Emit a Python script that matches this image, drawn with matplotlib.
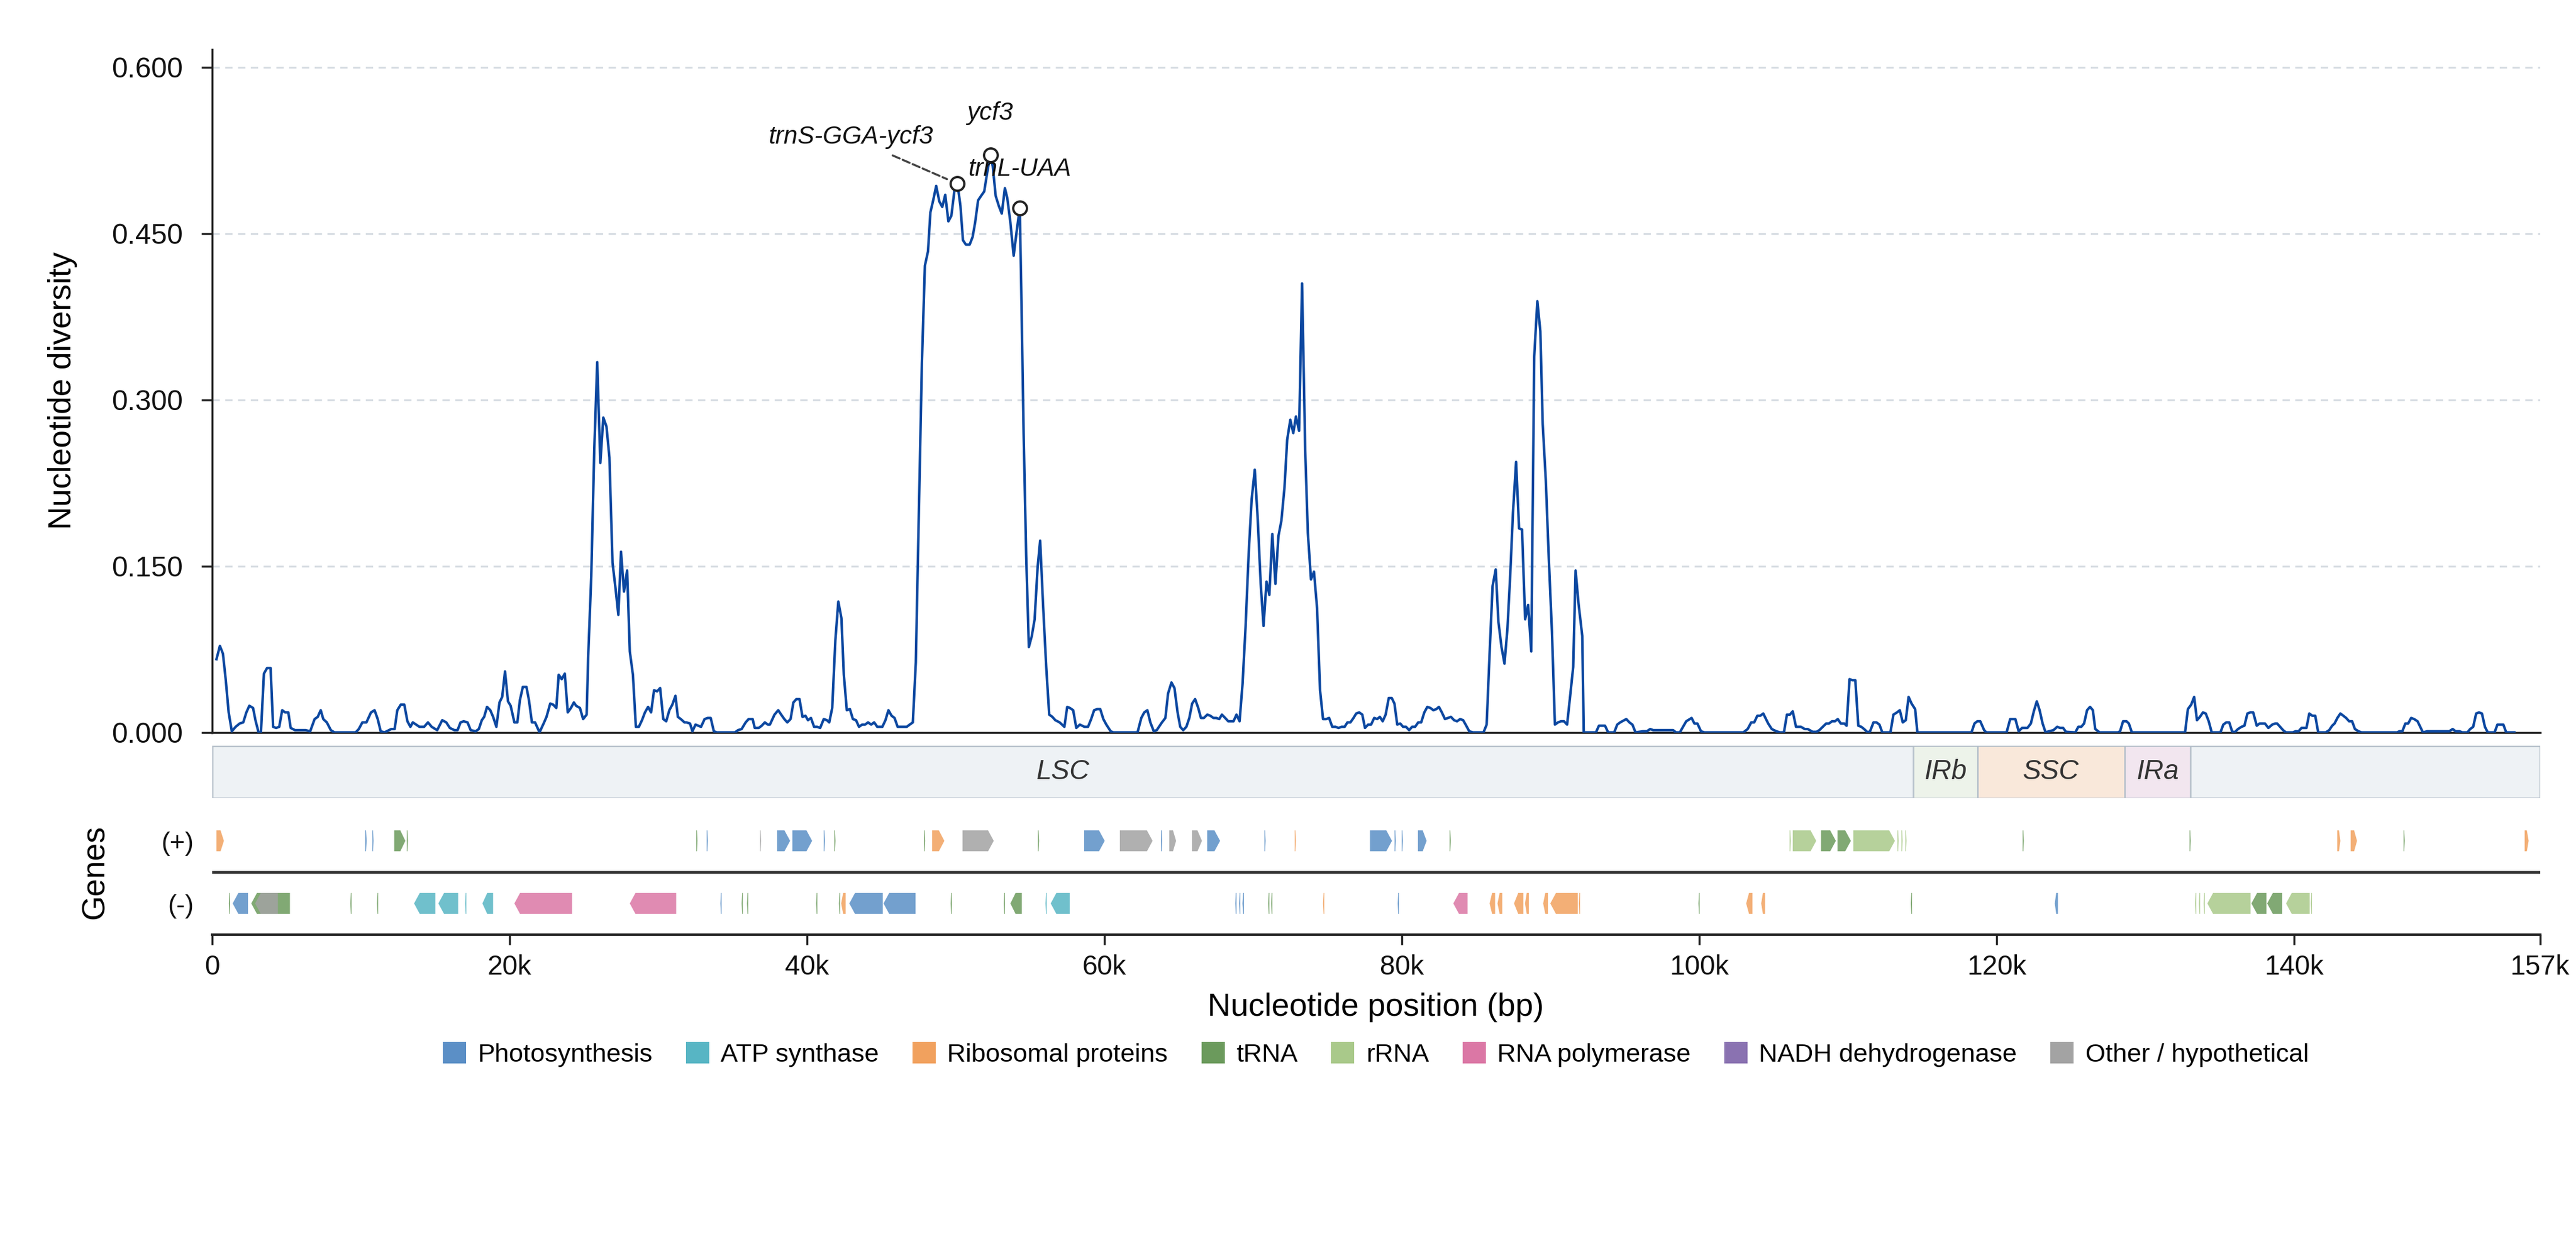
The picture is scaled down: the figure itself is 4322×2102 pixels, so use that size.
import numpy as np
import matplotlib
matplotlib.use("Agg")
import matplotlib.pyplot as plt
from matplotlib.patches import Polygon, Rectangle, Patch
from matplotlib.ticker import FormatStrFormatter

plt.rcParams['font.family'] = ['Liberation Sans', 'DejaVu Sans']

GENOME_LEN = 156520

# sliding window nucleotide diversity (window midpoint in bp, Pi)
pos_a = [300, 530, 735, 920, 1120, 1330, 1590, 1860, 2100, 2310,
         2510, 2760, 2920, 3130, 3290, 3490, 3700, 3940, 4110, 4310,
         4520, 4720, 4920, 5130, 5290, 5580, 5880, 6290, 6600, 6900,
         7110, 7310, 7480, 7720, 7990, 8230, 9660, 9870, 10110, 10380,
         10690, 10930, 11140, 11340, 11600, 12050, 12280, 12460, 12690, 12930,
         13140, 13340, 13500, 13950, 14260, 14520, 14770, 15140, 15480, 15750,
         15990, 16300, 16510, 16710, 16920, 17180, 17390, 17730, 17940, 18140,
         18300, 18490, 18710, 18900, 19120, 19330, 19510, 19700, 19900, 20080,
         20330, 20530, 20700, 20900, 21140, 21310, 21510, 21720, 22020, 22330,
         22490, 22740, 22940, 23150, 23310, 23510, 23720, 23920, 24130, 24330,
         24480, 24740, 24950, 25190, 25290, 25500, 25700, 25900, 26110, 26310,
         26520, 26720, 26930, 27130, 27320, 27500, 27700, 27910, 28090, 28300,
         28500, 28700, 28910, 29110, 29320, 29520, 29720, 29930, 30130, 30340,
         30540, 30750, 30950, 31160, 31320, 31520, 31770, 31896]
pi_a = [0.066, 0.078, 0.071, 0.048, 0.018, 0.001, 0.005, 0.008, 0.009, 0.018,
        0.024, 0.022, 0.011, 0, 0, 0.053, 0.058, 0.058, 0.005, 0.004,
        0.005, 0.020, 0.018, 0.018, 0.004, 0.002, 0.002, 0.002, 0.001, 0.012,
        0.014, 0.020, 0.012, 0.009, 0.002, 0, 0, 0.003, 0.009, 0.009,
        0.018, 0.020, 0.012, 0.001, 0, 0.003, 0.003, 0.020, 0.025, 0.025,
        0.010, 0.005, 0.009, 0.005, 0.005, 0.009, 0.005, 0.002, 0.011, 0.009,
        0.004, 0.002, 0.002, 0.009, 0.010, 0.009, 0.002, 0.001, 0.003, 0.011,
        0.014, 0.023, 0.020, 0.014, 0.005, 0.027, 0.032, 0.055, 0.028, 0.024,
        0.009, 0.009, 0.029, 0.041, 0.041, 0.029, 0.009, 0.009, 0, 0.009,
        0.014, 0.026, 0.025, 0.022, 0.052, 0.048, 0.053, 0.018, 0.022, 0.027,
        0.024, 0.022, 0.012, 0.016, 0.067, 0.141, 0.255, 0.334, 0.243, 0.284,
        0.276, 0.248, 0.153, 0.130, 0.106, 0.163, 0.127, 0.146, 0.073, 0.052,
        0.005, 0.005, 0.011, 0.018, 0.023, 0.018, 0.038, 0.037, 0.040, 0.012,
        0.010, 0.020, 0.025, 0.033, 0.014, 0.012, 0.009, 0.009]

pos_b = [32140, 32300, 32510, 32880, 33120, 33330, 33530, 33740, 33940, 35160,
         35370, 35610, 35880, 36080, 36350, 36490, 36760, 36960, 37170, 37370,
         37510, 37820, 38070, 38270, 38480, 38680, 38900, 39090, 39290, 39500,
         39700, 39900, 40070, 40270, 40480, 40680, 40890, 41130, 41340, 41500,
         41700, 41910, 42110, 42320, 42480, 42680, 42890, 43090, 43300, 43500,
         43710, 43910, 44110, 44320, 44520, 44730, 45070, 45280, 45480, 45690,
         45890, 46100, 46500, 46710, 46910, 47120, 47320, 47520, 47730, 47930,
         48140, 48300, 48490, 48690, 48900, 49100, 49300, 49510, 49710, 49920,
         50120, 50320, 50490, 50690, 50940, 51140, 51310, 51510, 51710, 51920,
         52120, 52330, 52490, 52690, 52900, 53100, 53310, 53470, 53680, 53900,
         54100, 54310, 54410, 54570, 54740, 54920, 55120, 55310, 55510, 55680,
         55880, 56090, 56290, 56500, 56700, 56990, 57310, 57500, 57680, 57900,
         58110, 58350, 58660, 58900, 59110, 59310, 59520, 59720, 59930, 60130,
         60420, 60600, 62230, 62480, 62680, 62890, 63090, 63320, 63520, 63870]
pi_b = [0.008, 0.001, 0.007, 0.005, 0.012, 0.013, 0.013, 0.001, 0, 0,
        0.002, 0.003, 0.009, 0.012, 0.012, 0.004, 0.004, 0.006, 0.009, 0.007,
        0.007, 0.016, 0.020, 0.016, 0.012, 0.009, 0.012, 0.027, 0.030, 0.030,
        0.014, 0.015, 0.011, 0.013, 0.005, 0.005, 0.004, 0.012, 0.011, 0.009,
        0.022, 0.083, 0.118, 0.103, 0.052, 0.020, 0.021, 0.012, 0.011, 0.005,
        0.007, 0.007, 0.009, 0.007, 0.009, 0.005, 0.005, 0.011, 0.020, 0.015,
        0.013, 0.005, 0.005, 0.005, 0.007, 0.009, 0.063, 0.196, 0.333, 0.421,
        0.434, 0.469, 0.480, 0.493, 0.479, 0.474, 0.485, 0.461, 0.466, 0.489,
        0.495, 0.475, 0.444, 0.440, 0.440, 0.447, 0.460, 0.480, 0.484, 0.488,
        0.505, 0.521, 0.511, 0.484, 0.475, 0.468, 0.491, 0.482, 0.460, 0.430,
        0.452, 0.473, 0.400, 0.270, 0.160, 0.077, 0.087, 0.102, 0.149, 0.173,
        0.114, 0.059, 0.016, 0.014, 0.011, 0.009, 0.005, 0.023, 0.022, 0.020,
        0.004, 0.007, 0.005, 0.005, 0.012, 0.020, 0.021, 0.021, 0.012, 0.007,
        0.001, 0, 0, 0.013, 0.018, 0.020, 0.009, 0.001, 0.002, 0.009]

pos_c = [64100, 64280, 64510, 64710, 64920, 65100, 65300, 65510, 65710, 65900,
         66100, 66310, 66490, 66690, 66920, 67120, 67330, 67530, 67720, 67900,
         68120, 68330, 68680, 68880, 69090, 69290, 69490, 69700, 69900, 70110,
         70310, 70510, 70700, 70900, 71090, 71290, 71500, 71700, 71900, 72110,
         72290, 72500, 72700, 72880, 73090, 73290, 73500, 73680, 73890, 74090,
         74300, 74500, 74700, 74910, 75110, 75320, 75540, 75740, 75950, 76150,
         76340, 76540, 76750, 76930, 77130, 77340, 77520, 77730, 77930, 78140,
         78340, 78520, 78710, 78910, 79120, 79320, 79500, 79690, 79890, 80080,
         80280, 80490, 80690, 80890, 81100, 81300, 81510, 81710, 81920, 82120,
         82320, 82490, 82690, 82900, 83100, 83300, 83510, 83710, 83920, 84120,
         84330, 84530, 84780, 85490, 85700, 85900, 86100, 86310, 86490, 86700,
         86900, 87100, 87290, 87470, 87680, 87880, 88080, 88290, 88490, 88700,
         88900, 89110, 89310, 89470, 89680, 89880, 90090, 90290, 90500, 90700,
         90900, 91110, 91310, 91520, 91680, 91880, 92130, 92230, 93050, 93250,
         93660, 93870, 94280, 94480, 94680, 95090, 95300, 95500, 95710]
pi_c = [0.013, 0.035, 0.045, 0.040, 0.018, 0.005, 0.002, 0.005, 0.013, 0.026,
        0.030, 0.022, 0.013, 0.013, 0.016, 0.015, 0.013, 0.013, 0.012, 0.016,
        0.013, 0.010, 0.010, 0.016, 0.010, 0.044, 0.095, 0.161, 0.210, 0.237,
        0.192, 0.134, 0.096, 0.136, 0.124, 0.179, 0.134, 0.177, 0.191, 0.221,
        0.264, 0.282, 0.270, 0.285, 0.272, 0.405, 0.255, 0.180, 0.138, 0.145,
        0.112, 0.038, 0.012, 0.012, 0.013, 0.005, 0.005, 0.004, 0.005, 0.005,
        0.009, 0.009, 0.013, 0.017, 0.018, 0.016, 0.004, 0.007, 0.007, 0.013,
        0.012, 0.014, 0.010, 0.016, 0.031, 0.031, 0.026, 0.007, 0.008, 0.005,
        0.005, 0.002, 0.005, 0.005, 0.009, 0.009, 0.018, 0.023, 0.022, 0.020,
        0.021, 0.023, 0.018, 0.012, 0.013, 0.014, 0.011, 0.010, 0.012, 0.011,
        0.006, 0.001, 0, 0, 0.007, 0.071, 0.132, 0.147, 0.100, 0.077,
        0.062, 0.094, 0.143, 0.198, 0.244, 0.184, 0.183, 0.102, 0.115, 0.073,
        0.339, 0.389, 0.362, 0.278, 0.227, 0.157, 0.091, 0.007, 0.009, 0.010,
        0.010, 0.007, 0.032, 0.059, 0.146, 0.116, 0.087, 0, 0, 0.006,
        0.006, 0, 0, 0.007, 0.009, 0.012, 0.009, 0.007, 0]

pos_d = [96210, 96470, 96700, 96900, 98240, 98430, 98690, 99120, 99480, 99670,
         99870, 100110, 100340, 102960, 103250, 103490, 103690, 103900, 104100, 104300,
         104630, 104870, 105180, 105420, 105690, 105890, 106090, 106280, 106500, 106830,
         107090, 107290, 107620, 107880, 108070, 108530, 108720, 108920, 109120, 109310,
         109510, 109750, 109900, 110100, 110300, 110490, 110690, 110890, 111080, 111320,
         111480, 111710, 111910, 112110, 112300, 112850, 113050, 113290, 113480, 113680,
         113880, 114070, 114270, 114510, 114660, 118300, 118500, 118690, 118890, 119150,
         119290, 120660, 120900, 121250, 121470, 121700, 122060, 122290, 122490, 122690,
         122880, 123080, 123280, 123510, 123810, 124060, 124260, 124460, 124650, 125280,
         125480, 125680, 125870, 126070, 126270, 126460, 126620, 126820]
pi_d = [0.001, 0.001, 0.003, 0.002, 0.002, 0, 0, 0.010, 0.013, 0.008,
        0.008, 0.001, 0, 0, 0.003, 0.009, 0.009, 0.015, 0.015, 0.017,
        0.008, 0.003, 0.001, 0, 0, 0.016, 0.016, 0.019, 0.005, 0.005,
        0.003, 0.003, 0.0005, 0.0005, 0.002, 0.008, 0.008, 0.010, 0.010, 0.012,
        0.008, 0.008, 0.006, 0.048, 0.047, 0.047, 0.006, 0.005, 0.003, 0,
        0.001, 0.009, 0.009, 0.007, 0, 0, 0.016, 0.018, 0.020, 0.009,
        0.011, 0.032, 0.026, 0.021, 0, 0, 0.008, 0.010, 0.010, 0.002,
        0, 0, 0.012, 0.012, 0.001, 0.004, 0.004, 0.008, 0.019, 0.028,
        0.020, 0.008, 0, 0.001, 0.002, 0.005, 0.004, 0.004, 0.0005, 0,
        0.005, 0.005, 0.008, 0.020, 0.023, 0.020, 0.003, 0.001]

pos_e = [126910, 128150, 128290, 128490, 128720, 128880, 129080, 132660, 132850, 133070,
         133270, 133460, 133660, 133860, 134050, 134250, 134450, 135040, 135230, 135430,
         135630, 135820, 135980, 136220, 136450, 136650, 136850, 137040, 137240, 137480,
         137670, 138030, 138260, 138520, 138720, 138850, 139050, 139250, 139440, 139900,
         140090, 140290, 140490, 140820, 141010, 141210, 141410, 141610, 142120, 142350,
         142550, 142710, 142900, 143100, 143300, 143490, 143690, 143890, 144080, 144320,
         144520, 146920, 147070, 147270, 147470, 147660, 147860, 148060, 148290, 148650,
         148940, 150420, 150650, 150850, 151110, 151300, 151640, 151830, 152030, 152230,
         152420, 152620, 152820, 153010, 153470, 153660, 154060, 154250, 154800]
pi_e = [0, 0, 0.001, 0.010, 0.010, 0.008, 0, 0, 0.021, 0.025,
        0.032, 0.011, 0.014, 0.018, 0.017, 0.010, 0, 0, 0.007, 0.009,
        0.009, 0.001, 0, 0.003, 0.005, 0.006, 0.017, 0.018, 0.018, 0.006,
        0.008, 0.008, 0.004, 0.007, 0.008, 0.008, 0.005, 0.002, 0, 0,
        0.001, 0.001, 0.004, 0.004, 0.017, 0.015, 0.015, 0, 0, 0.002,
        0.006, 0.008, 0.013, 0.017, 0.015, 0.013, 0.010, 0.010, 0.003, 0.001,
        0, 0, 0.001, 0.001, 0.008, 0.008, 0.013, 0.012, 0.010, 0,
        0.001, 0.001, 0.003, 0.001, 0.001, 0, 0, 0.003, 0.005, 0.017,
        0.018, 0.017, 0.005, 0, 0, 0.007, 0.007, 0, 0]

win_pos = pos_a + pos_b + pos_c + pos_d + pos_e
pi_vals = pi_a + pi_b + pi_c + pi_d + pi_e

# highlighted hotspots
hot_names = ['trnS-GGA-ycf3', 'ycf3', 'trnL-UAA']
hot_pos = [50120, 52330, 54310]
hot_pi = [0.495, 0.521, 0.473]

# quadripartite structure
region_names = ['LSC', 'IRb', 'SSC', 'IRa']
region_start = [0, 114400, 118700, 128600]
region_end = [114400, 118700, 128600, 133000]
region_colors = ['#EEF2F5', '#EDF3EA', '#F9E8DA', '#F2E6EF']

# gene categories
categories = ['Photosynthesis', 'ATP synthase', 'Ribosomal proteins', 'tRNA',
              'rRNA', 'RNA polymerase', 'NADH dehydrogenase', 'Other / hypothetical']
cat_keys = ['PS', 'ATP', 'RP', 'tRNA', 'rRNA', 'RNAP', 'NDH', 'OTH']
cat_colors = ['#5B8FC6', '#57B5C4', '#F1A15E', '#6B9A5C',
              '#A9C98A', '#DB77A5', '#8A72B1', '#A3A3A3']

# genes: start, end, strand, category
gene_start = [300, 10300, 10780, 12250, 13100, 32560, 33260, 36850, 38000, 39020,
              41130, 41840, 47870, 48420, 50460, 55530, 58640, 61040, 63810, 64360,
              65890, 66910, 70760, 72800, 77855, 79510, 79990, 81083, 83210, 106070,
              106280, 108180, 109290, 110350, 113320, 113590, 113850, 121740, 132960, 142890,
              143790, 147350, 155490,
              1130, 1390, 2640, 2900, 9300, 11090, 13586, 15220, 17020, 18180,
              20330, 28090, 34180, 35610, 35970, 40620, 42150, 42300, 42850, 45150,
              49660, 53230, 53680, 56040, 56390, 68800, 69060, 69280, 71010, 71210,
              74700, 79720, 83460, 85900, 86430, 87540, 88280, 89500, 89980, 91900,
              99940, 103150, 104160, 114220, 123900, 133330, 133590, 133910, 134160, 137120,
              138180, 139450, 141110]
gene_end = [800, 10400, 10860, 13000, 13180, 32640, 33340, 36920, 38870, 40350,
            41210, 41920, 47950, 49240, 52560, 55610, 60020, 63240, 63890, 64820,
            66560, 67780, 70840, 72880, 79337, 79590, 80070, 81665, 83290, 106150,
            107860, 109180, 110190, 113150, 113400, 113670, 113930, 121820, 133040, 143100,
            144220, 147430, 155760,
            1210, 2420, 5240, 4430, 9380, 11170, 15016, 16550, 17100, 18900,
            24210, 31210, 34260, 35690, 36050, 40700, 42230, 42600, 45100, 47300,
            49740, 53310, 54450, 56120, 57670, 68880, 69140, 69380, 71090, 71290,
            74780, 79800, 84420, 86270, 86750, 88170, 88540, 89820, 91830, 91980,
            100020, 103575, 104420, 114300, 124110, 133410, 133670, 133990, 137060, 138130,
            139190, 141040, 141190]
gene_strand = ['+'] * 43 + ['-'] * 53
gene_cat = ['RP', 'PS', 'PS', 'tRNA', 'tRNA', 'tRNA', 'PS', 'OTH', 'PS', 'PS',
            'PS', 'tRNA', 'tRNA', 'RP', 'OTH', 'tRNA', 'PS', 'OTH', 'PS', 'OTH',
            'OTH', 'PS', 'PS', 'RP', 'PS', 'PS', 'PS', 'PS', 'tRNA', 'rRNA',
            'rRNA', 'tRNA', 'tRNA', 'rRNA', 'rRNA', 'rRNA', 'rRNA', 'tRNA', 'tRNA', 'RP',
            'RP', 'tRNA', 'RP',
            'tRNA', 'PS', 'tRNA', 'OTH', 'tRNA', 'tRNA', 'ATP', 'ATP', 'ATP', 'ATP',
            'RNAP', 'RNAP', 'PS', 'tRNA', 'tRNA', 'tRNA', 'tRNA', 'RP', 'PS', 'PS',
            'tRNA', 'tRNA', 'tRNA', 'ATP', 'ATP', 'PS', 'PS', 'PS', 'tRNA', 'tRNA',
            'RP', 'PS', 'RNAP', 'RP', 'RP', 'RP', 'RP', 'RP', 'RP', 'RP',
            'tRNA', 'RP', 'RP', 'tRNA', 'PS', 'rRNA', 'rRNA', 'rRNA', 'rRNA', 'tRNA',
            'tRNA', 'rRNA', 'rRNA']

color_of = dict(zip(cat_keys, cat_colors))

fig = plt.figure(figsize=(15.68, 7.626), dpi=275.64)
fig.patch.set_facecolor('white')
ax = fig.add_axes([0.0823, 0.4155, 0.9037, 0.5452])
ax_reg = fig.add_axes([0.0823, 0.3630, 0.9037, 0.0419], sharex=ax)
ax_gene = fig.add_axes([0.0823, 0.2540, 0.9037, 0.0999], sharex=ax)

# --- diversity curve ---
ax.plot(win_pos, pi_vals, color='#0B47A0', lw=1.1, zorder=3)
ax.plot(hot_pos, hot_pi, 'o', ms=6, mfc='white', mec='#222222', mew=1.0, zorder=5)
ax.annotate(hot_names[0], xy=(hot_pos[0], hot_pi[0]), xytext=(42940, 0.537),
            ha='center', va='center', fontsize=11, style='italic', color='#111111',
            arrowprops=dict(arrowstyle='-', ls='--', lw=0.9, color='#444444',
                            shrinkA=2, shrinkB=5))
ax.text(52300, 0.5586, hot_names[1], ha='center', va='center', fontsize=11,
        style='italic', color='#111111', zorder=6)
ax.text(54300, 0.508, hot_names[2], ha='center', va='center', fontsize=11,
        style='italic', color='#111111', zorder=6)

ax.set_xlim(0, GENOME_LEN)
ax.set_ylim(0, 0.6163)
ax.set_yticks([0, 0.15, 0.30, 0.45, 0.60])
ax.yaxis.set_major_formatter(FormatStrFormatter('%.3f'))
ax.grid(axis='y', color='#D5DBE1', lw=0.8, ls=(0, (4, 3)))
ax.set_axisbelow(True)
for s in ['top', 'right']:
    ax.spines[s].set_visible(False)
for s in ['left', 'bottom']:
    ax.spines[s].set_linewidth(0.9)
    ax.spines[s].set_color('#222222')
ax.tick_params(axis='x', bottom=False, labelbottom=False)
ax.tick_params(axis='y', length=4.7, width=0.9, pad=8, labelsize=12.5,
               color='#222222', labelcolor='#111111')
ax.set_ylabel('Nucleotide diversity', fontsize=14)
ax.yaxis.set_label_coords(-0.0579, 0.5)

# --- region bar ---
ax_reg.set_ylim(0, 1)
ax_reg.axis('off')
ax_reg.add_patch(Rectangle((0, 0), GENOME_LEN, 1, fc=region_colors[0],
                           ec='#B8C2CC', lw=0.9))
for name, s, e, c in zip(region_names, region_start, region_end, region_colors):
    if name != 'LSC':
        ax_reg.add_patch(Rectangle((s, 0), e - s, 1, fc=c, ec='#B8C2CC', lw=0.7))
    ax_reg.text((s + e) / 2, 0.5, name, ha='center', va='center', fontsize=12,
                style='italic', color='#333333')

# --- gene track ---
ax_gene.set_ylim(-1, 1)
for s, e, st, cat in zip(gene_start, gene_end, gene_strand, gene_cat):
    yc = 0.5 if st == '+' else -0.5
    y0, y1 = yc - 0.167, yc + 0.167
    tip = min(380, 0.45 * (e - s))
    if st == '+':
        pts = [(s, y0), (e - tip, y0), (e, yc), (e - tip, y1), (s, y1)]
    else:
        pts = [(e, y0), (s + tip, y0), (s, yc), (s + tip, y1), (e, y1)]
    ax_gene.add_patch(Polygon(pts, closed=True, fc=color_of[cat], ec='none',
                              alpha=0.85))
ax_gene.axhline(0, color='#333333', lw=1.2)
for s in ['top', 'right', 'left']:
    ax_gene.spines[s].set_visible(False)
ax_gene.spines['bottom'].set_linewidth(1.1)
ax_gene.spines['bottom'].set_color('#222222')
ax_gene.set_yticks([0.5, -0.5])
ax_gene.set_yticklabels(['(+)', '(-)'])
ax_gene.tick_params(axis='y', length=0, pad=8, labelsize=11.5, labelcolor='#111111')
xt = [0, 20000, 40000, 60000, 80000, 100000, 120000, 140000, GENOME_LEN]
ax_gene.set_xticks(xt)
ax_gene.set_xticklabels(['0'] + [f'{v // 1000}k' for v in xt[1:-1]]
                        + [f'{GENOME_LEN / 1000:.0f}k'])
ax_gene.tick_params(axis='x', length=4.5, width=0.9, pad=4, labelsize=12,
                    color='#222222', labelcolor='#111111')
ax_gene.set_ylabel('Genes', fontsize=14)
ax_gene.yaxis.set_label_coords(-0.0438, 0.5)
ax_gene.set_xlabel('Nucleotide position (bp)', fontsize=14)
ax_gene.xaxis.set_label_coords(0.5, -0.46)

handles = [Patch(facecolor=c, edgecolor='none', label=n)
           for n, c in zip(categories, cat_colors)]
fig.legend(handles=handles, loc='center', bbox_to_anchor=(0.534, 0.1586), ncol=8,
           frameon=False, fontsize=11.3, handlelength=0.9, handleheight=0.9,
           handletextpad=0.45, columnspacing=1.3)

fig.savefig('out.png', dpi=275.64, facecolor='white')
